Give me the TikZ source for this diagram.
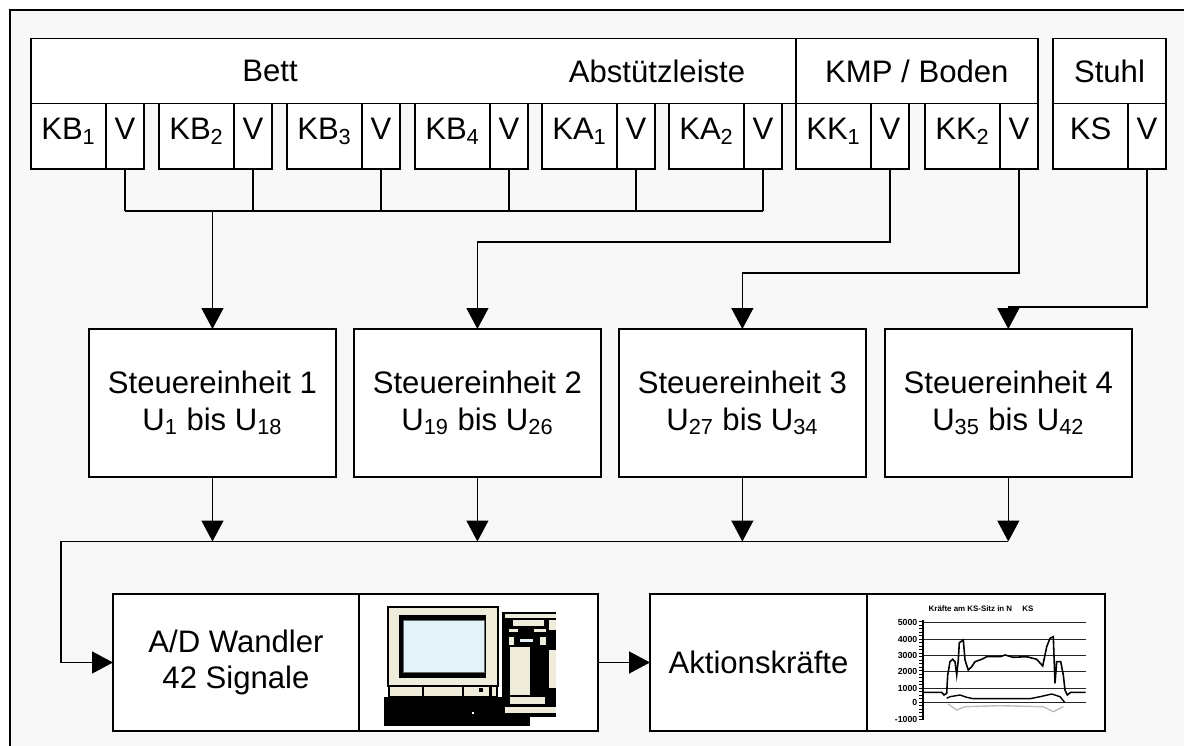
\documentclass[tikz,border=0pt]{standalone}
\usepackage{fontspec}
\setmainfont{Liberation Sans}
\usetikzlibrary{arrows.meta, positioning}

\definecolor{panelgrey}{HTML}{F8F8F8}
\definecolor{beige}{HTML}{F0ECDC}
\definecolor{screenblue}{HTML}{E3F1F8}

\begin{document}
\begin{tikzpicture}[x=0.02cm, y=-0.02cm, line width=0.8pt,
        >={Triangle[length=0.42cm, width=0.44cm]},
        font=\fontsize{17.7}{21}\selectfont]
        \tikzstyle{box} = [rectangle, draw, fill=white, line width=0.8pt, inner sep=0pt, outer sep=0pt]
        \tikzstyle{group} = [box, minimum height=1.3cm]
        \tikzstyle{sensor} = [box, minimum width=1.5cm, minimum height=1.31cm, text height=0.72em, text depth=0.3em]
        \tikzstyle{valve} = [box, minimum width=0.76cm, minimum height=1.31cm, text height=0.72em, text depth=0.3em]
        \tikzstyle{unit} = [box, minimum width=4.94cm, minimum height=2.96cm, align=center]
        \tikzstyle{device} = [box, minimum height=2.74cm, align=center]
        \tikzstyle{ticklabel} = [inner sep=0pt, anchor=east, font=\fontsize{5}{5}\selectfont\bfseries]

        \useasboundingbox (0,0) rectangle (1184,746);
        \fill [white] (0,0) rectangle (1184,746);
        \fill [panelgrey] (10,10) rectangle (1184,746);
        \draw [line width=0.6pt] (10,746) -- (10,10) -- (1184,10);

        % sensor groups
        \node (bett) [group, minimum width=15.3cm, anchor=north west] at (31,38.5) {};
        \node (betttext) at (270,71) {Bett};
        \node (leistetext) at (657,71) {Abstützleiste};
        \node (kmp) [group, minimum width=4.84cm, right=0pt of bett] {KMP / Boden};
        \node (stuhl) [group, minimum width=2.26cm, anchor=north west] at (1053,38.5) {Stuhl};

        % sensors with amplifiers
        \node (kb1) [sensor, anchor=north west] at (31,103.5) {KB\textsubscript{1}};
        \node (v1) [valve, right=0pt of kb1] {V};
        \node (kb2) [sensor, anchor=north west] at (159,103.5) {KB\textsubscript{2}};
        \node (v2) [valve, right=0pt of kb2] {V};
        \node (kb3) [sensor, anchor=north west] at (287,103.5) {KB\textsubscript{3}};
        \node (v3) [valve, right=0pt of kb3] {V};
        \node (kb4) [sensor, anchor=north west] at (415,103.5) {KB\textsubscript{4}};
        \node (v4) [valve, right=0pt of kb4] {V};
        \node (ka1) [sensor, anchor=north west] at (542,103.5) {KA\textsubscript{1}};
        \node (v5) [valve, right=0pt of ka1] {V};
        \node (ka2) [sensor, anchor=north west] at (669,103.5) {KA\textsubscript{2}};
        \node (v6) [valve, right=0pt of ka2] {V};
        \node (kk1) [sensor, anchor=north west] at (796,103.5) {KK\textsubscript{1}};
        \node (v7) [valve, right=0pt of kk1] {V};
        \node (kk2) [sensor, anchor=north west] at (925,103.5) {KK\textsubscript{2}};
        \node (v8) [valve, right=0pt of kk2] {V};
        \node (ks) [sensor, anchor=north west] at (1053,103.5) {KS};
        \node (v9) [valve, right=0pt of ks] {V};

        % control units
        \node (se1) [unit, anchor=north west] at (89,329) {Steuereinheit 1\\U\textsubscript{1} bis U\textsubscript{18}};
        \node (se2) [unit, right=0.36cm of se1] {Steuereinheit 2\\U\textsubscript{19} bis U\textsubscript{26}};
        \node (se3) [unit, right=0.36cm of se2] {Steuereinheit 3\\U\textsubscript{27} bis U\textsubscript{34}};
        \node (se4) [unit, right=0.38cm of se3] {Steuereinheit 4\\U\textsubscript{35} bis U\textsubscript{42}};

        % acquisition and result
        \node (ad) [device, minimum width=4.92cm, anchor=north west] at (113,594) {A/D Wandler\\42 Signale};
        \node (pc) [device, minimum width=4.78cm, right=0pt of ad] {};
        \node (akt) [device, minimum width=4.34cm, anchor=north west] at (650,594) {Aktionskräfte};
        \node (chart) [device, minimum width=4.76cm, right=0pt of akt] {};

        % bed and support strip onto unit 1
        \coordinate (bus) at (0,211);
        \draw (v1.south) -- (v1.south |- bus);
        \draw (v2.south) -- (v2.south |- bus);
        \draw (v3.south) -- (v3.south |- bus);
        \draw (v4.south) -- (v4.south |- bus);
        \draw (v5.south) -- (v5.south |- bus);
        \draw (v6.south) -- (v6.south |- bus);
        \draw (v1.south |- bus) -- (v6.south |- bus);
        \draw [->] (se1.north |- bus) -- (se1.north);

        % floor plates and chair
        \coordinate (kk1line) at (0,242);
        \coordinate (kk2line) at (0,273);
        \coordinate (ksline) at (0,307);
        \draw [->] (v7.south) |- (se2.north |- kk1line) -- (se2.north);
        \draw [->] (v8.south) |- (se3.north |- kk2line) -- (se3.north);
        \draw [->] (v9.south) |- (se4.north |- ksline) -- (se4.north);

        % units into the converter
        \coordinate (collect) at (61,541.5);
        \draw [->] (se1.south) -- (se1.south |- collect);
        \draw [->] (se2.south) -- (se2.south |- collect);
        \draw [->] (se3.south) -- (se3.south |- collect);
        \draw [->] (se4.south) -- (se4.south |- collect);
        \draw (collect) -- (se4.south |- collect);
        \draw [->] (collect) |- (ad.west);
        \draw [->] (pc) -- (akt);

        % computer
        \draw [fill=beige, line width=0.6pt] (388,607) rectangle (498,686);
        \fill (398.5,615) rectangle (486,677.5);
        \draw [fill=screenblue, draw=black!60, line width=0.4pt] (403,620) rectangle (484,672);
        \draw [fill=beige, line width=0.6pt] (389,686) rectangle (497,696.5);
        \draw [line width=0.8pt] (423,686) -- (423,696.5) (463,686) -- (463,696.5);
        \fill (479,688) rectangle (483,692);
        \fill (489,686) rectangle (492,696.5);
        \fill (384,696.5) rectangle (530,726);
        \fill [white] (472,712) rectangle (474,714);
        \fill (502,611.5) rectangle (556,716.5);
        \fill [beige] (505,614) rectangle (556,618);
        \fill [beige] (512.5,620) rectangle (544,626);
        \fill [beige] (509,629) rectangle (518,632);
        \fill [beige] (534,629) rectangle (546,632);
        \fill [screenblue] (520,639) rectangle (533,642);
        \fill [beige] (509,637) rectangle (514,645);
        \fill [beige] (540,637) rectangle (546,645);
        \fill [beige] (510,647) rectangle (530,695);
        \fill [beige] (510,697) rectangle (545,704);
        \fill [beige] (549,620) rectangle (556,630);
        \fill [beige] (549,650) rectangle (556,688);
        \fill [beige] (505,707) rectangle (556,713);

        % force curve
        \node (charttitle) [inner sep=0pt, font=\fontsize{4.5}{5}\selectfont\bfseries] at (981,609) {Kräfte am KS-Sitz in N \quad KS};
        \draw [line width=0.7pt, black!85] (923,622.7) -- (1085.7,622.7)
            (923,639.3) -- (1085.7,639.3) (923,655.7) -- (1085.7,655.7)
            (923,671.7) -- (1085.7,671.7) (923,688.3) -- (1085.7,688.3)
            (923,702.7) -- (1085.7,702.7);
        \draw (923,620) -- (923,720);
        \draw [line width=2.5pt, dash pattern=on 0.4pt off 1.6pt] (921.5,621) -- (921.5,720);
        \node (ylab1) [ticklabel] at (918,622.7) {5000};
        \node (ylab2) [ticklabel] at (918,639.3) {4000};
        \node (ylab3) [ticklabel] at (918,655.7) {3000};
        \node (ylab4) [ticklabel] at (918,671.7) {2000};
        \node (ylab5) [ticklabel] at (918,688.3) {1000};
        \node (ylab6) [ticklabel] at (918,702.7) {0};
        \node (ylab7) [ticklabel] at (918,719) {-1000};
        \draw [line width=0.9pt] (923.3,692.3) -- (941.7,692.3) -- (944,695) -- (946.7,693.3)
            -- (947.7,675) -- (950,661.7) -- (952.7,659.3) -- (955,661.7) -- (956.7,675)
            -- (958.3,660) -- (959.3,642.7) -- (963.3,640) -- (965,660) -- (968.3,670)
            -- (971.7,666.7) -- (975,661.7) -- (981.7,659.3) -- (986.7,656.7) -- (1000,656.7)
            -- (1005,655) -- (1013.3,657.3) -- (1026.7,656.7) -- (1036.7,659.3) -- (1042.7,666)
            -- (1046.7,646.7) -- (1050,638.3) -- (1053.3,636.7) -- (1055,683.3) -- (1056.7,661.7)
            -- (1060.7,661.7) -- (1063.3,675) -- (1065,690) -- (1067.3,695) -- (1070.7,692.3)
            -- (1085.7,692.3);
        \draw [line width=0.8pt] (946.7,698.3) -- (950,696.7) -- (960,695) -- (966.7,697.3)
            -- (973.3,698.7) -- (1030,698.7) -- (1040,696.7) -- (1051.7,694) -- (1060,696.7)
            -- (1065,702.7);
        \draw [line width=0.8pt, black!25] (948.3,704) -- (956.7,710) -- (965,706.7)
            -- (1000,705.7) -- (1043.3,706.7) -- (1053.3,711.7) -- (1063.3,706.7);
    \end{tikzpicture}
\end{document}
